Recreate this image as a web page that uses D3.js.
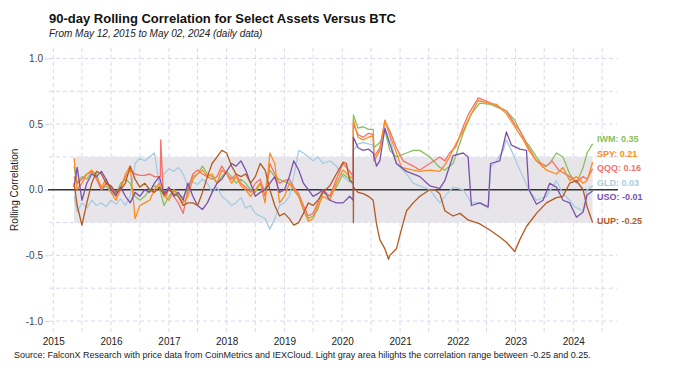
<!DOCTYPE html>
<html>
<head>
<meta charset="utf-8">
<script src="https://cdn.jsdelivr.net/npm/d3@7"></script>
<style>
  body { margin: 0; background: #fff; }
  svg { display: block; font-family: "Liberation Sans", Arial, Helvetica, sans-serif; }
</style>
</head>
<body>
<div id="chart"></div>
<script>
// ---- data ----
const assetNames = ["GLD", "IWM", "QQQ", "SPY", "USO", "UUP"]
const assetColors = ["#a6cde3", "#88c15c", "#f4716c", "#ff8b1c", "#7b50ad", "#b4591f"]

const iwm = [["2015-05-12",0.18],["2015-06-01",0.05],["2015-07-01",0.10],["2015-08-01",0.08],["2015-09-01",0.14],["2015-10-01",0.12],["2015-11-01",0.00],["2015-12-01",0.03],
  ["2016-01-01",-0.02],["2016-02-01",-0.05],["2016-03-01",0.05],["2016-04-01",0.08],["2016-05-01",0.05],["2016-06-01",-0.05],["2016-07-01",-0.08],["2016-08-01",-0.05],["2016-09-01",0.00],["2016-10-01",0.03],["2016-11-01",0.02],["2016-12-01",-0.12],
  ["2017-01-01",-0.05],["2017-02-01",0.00],["2017-03-01",-0.03],["2017-04-01",-0.06],["2017-05-01",0.02],["2017-06-01",0.10],["2017-07-01",0.12],["2017-08-01",0.18],["2017-09-01",0.12],["2017-10-01",0.10],["2017-11-01",0.05],["2017-12-01",0.10],
  ["2018-01-01",0.14],["2018-02-01",0.10],["2018-03-01",0.05],["2018-04-01",0.08],["2018-05-01",0.05],["2018-06-01",0.00],["2018-07-01",-0.02],["2018-08-01",0.05],["2018-09-01",0.00],["2018-10-01",0.15],["2018-11-01",0.10],["2018-12-01",0.08],
  ["2019-01-01",0.06],["2019-02-01",0.05],["2019-03-01",0.00],["2019-04-01",-0.05],["2019-05-01",-0.15],["2019-06-01",-0.22],["2019-07-01",-0.20],["2019-08-01",-0.15],["2019-09-01",-0.02],["2019-10-15",-0.05],["2019-11-25",0.02],["2020-01-07",0.12],["2020-02-18",0.08],["2020-03-11",0.05],
  ["2020-03-12",0.57],["2020-04-10",0.47],["2020-05-13",0.48],["2020-06-15",0.46],["2020-07-15",0.46],["2020-07-20",0.32],["2020-08-26",0.36],["2020-09-27",0.45],["2020-10-28",0.30],["2020-12-09",0.25],
  ["2021-02-11",0.28],["2021-03-25",0.30],["2021-05-06",0.30],["2021-07-08",0.25],["2021-09-09",0.17],["2021-10-11",0.15],["2021-12-02",0.20],["2022-02-04",0.43],["2022-03-28",0.58],["2022-05-20",0.66],["2022-07-27",0.65],["2022-09-23",0.62],["2022-11-04",0.60],["2022-12-27",0.53],
  ["2023-01-28",0.45],["2023-03-11",0.36],["2023-03-26",0.34],["2023-05-13",0.25],["2023-06-24",0.17],["2023-08-05",0.20],["2023-09-16",0.28],["2023-10-28",0.25],["2023-12-09",0.12],["2024-01-21",0.05],["2024-03-03",0.17],["2024-03-28",0.28],["2024-05-02",0.35]]

const spy = [["2015-05-12",0.24],["2015-06-01",0.00],["2015-07-01",0.05],["2015-08-01",0.12],["2015-09-01",0.15],["2015-10-01",0.10],["2015-11-01",0.02],["2015-12-01",0.08],
  ["2016-01-01",-0.02],["2016-02-01",-0.08],["2016-03-01",0.00],["2016-04-01",0.12],["2016-05-01",0.18],["2016-06-01",-0.22],["2016-07-01",-0.12],["2016-08-01",-0.10],["2016-09-01",-0.08],["2016-10-01",0.00],["2016-11-01",0.05],["2016-12-01",-0.05],
  ["2017-01-01",-0.08],["2017-02-01",0.00],["2017-03-01",-0.05],["2017-04-01",-0.10],["2017-05-01",-0.05],["2017-06-01",0.08],["2017-07-01",0.12],["2017-08-01",0.15],["2017-09-01",0.10],["2017-10-01",0.12],["2017-11-01",0.05],["2017-12-01",0.15],
  ["2018-01-01",0.12],["2018-02-01",0.05],["2018-03-01",0.10],["2018-04-01",0.03],["2018-05-01",0.00],["2018-06-01",-0.05],["2018-07-01",0.00],["2018-08-01",0.05],["2018-09-01",-0.10],["2018-10-01",0.28],["2018-11-01",0.20],["2018-12-01",-0.10],
  ["2019-01-01",-0.05],["2019-02-01",0.05],["2019-03-01",0.00],["2019-04-01",-0.05],["2019-05-01",-0.15],["2019-06-01",-0.24],["2019-07-01",-0.22],["2019-08-01",-0.12],["2019-09-01",-0.05],["2019-10-15",-0.08],["2019-11-25",0.05],["2020-01-07",0.15],["2020-02-18",0.10],["2020-03-11",0.08],
  ["2020-03-12",0.53],["2020-04-10",0.40],["2020-05-13",0.38],["2020-06-15",0.40],["2020-07-15",0.41],["2020-07-20",0.22],["2020-08-26",0.30],["2020-09-27",0.53],["2020-10-28",0.42],["2020-12-09",0.28],
  ["2021-01-10",0.17],["2021-03-25",0.15],["2021-05-06",0.14],["2021-07-08",0.15],["2021-09-09",0.14],["2021-10-11",0.19],["2021-11-10",0.25],["2021-12-20",0.35],["2022-02-04",0.45],["2022-03-07",0.53],["2022-05-10",0.68],["2022-07-12",0.66],["2022-09-03",0.65],["2022-11-04",0.58],["2022-12-27",0.48],
  ["2023-01-28",0.42],["2023-02-20",0.38],["2023-03-26",0.30],["2023-05-13",0.22],["2023-07-15",0.15],["2023-09-16",0.12],["2023-10-28",0.17],["2023-12-09",0.07],["2024-01-21",0.10],["2024-03-03",0.05],["2024-03-28",0.07],["2024-05-02",0.21]]

const qqq = [["2015-05-12",0.10],["2015-06-01",0.05],["2015-07-01",0.08],["2015-08-01",0.12],["2015-09-01",0.14],["2015-10-01",0.08],["2015-11-01",0.00],["2015-12-01",0.05],
  ["2016-01-01",0.02],["2016-02-01",-0.05],["2016-03-01",0.02],["2016-04-01",0.10],["2016-05-01",0.15],["2016-06-01",0.12],["2016-07-01",0.11],["2016-08-01",0.11],["2016-09-01",0.12],["2016-10-01",0.10],["2016-11-08",0.10],["2016-11-10",0.38],["2016-11-25",0.00],["2016-12-15",-0.05],
  ["2017-01-01",0.02],["2017-02-01",-0.05],["2017-03-01",-0.10],["2017-04-01",-0.18],["2017-05-01",0.00],["2017-06-01",0.12],["2017-07-01",0.15],["2017-08-01",0.12],["2017-09-01",0.10],["2017-10-01",0.08],["2017-11-01",0.10],["2017-12-01",0.18],
  ["2018-01-01",0.12],["2018-02-01",0.08],["2018-03-01",0.12],["2018-04-01",0.05],["2018-05-01",0.02],["2018-06-01",-0.02],["2018-07-01",0.05],["2018-08-01",0.08],["2018-09-01",-0.05],["2018-10-01",0.20],["2018-11-01",0.12],["2018-12-01",0.05],
  ["2019-01-01",0.07],["2019-02-01",0.08],["2019-03-01",0.02],["2019-04-01",-0.03],["2019-05-01",-0.12],["2019-06-01",-0.20],["2019-07-01",-0.18],["2019-08-01",-0.10],["2019-09-01",0.00],["2019-10-15",-0.05],["2019-11-25",0.08],["2020-01-07",0.20],["2020-02-18",0.14],["2020-03-11",0.10],
  ["2020-03-12",0.50],["2020-04-10",0.42],["2020-05-13",0.40],["2020-06-15",0.43],["2020-07-15",0.42],["2020-07-20",0.25],["2020-08-26",0.32],["2020-09-27",0.52],["2020-10-28",0.45],["2020-12-09",0.32],
  ["2021-01-20",0.22],["2021-03-25",0.18],["2021-05-06",0.15],["2021-07-08",0.20],["2021-09-09",0.25],["2021-10-11",0.22],["2021-11-10",0.28],["2021-12-20",0.33],["2022-02-04",0.48],["2022-03-07",0.57],["2022-05-10",0.70],["2022-07-12",0.67],["2022-09-03",0.64],["2022-11-04",0.60],["2022-12-27",0.50],
  ["2023-01-28",0.45],["2023-03-11",0.35],["2023-03-26",0.32],["2023-05-13",0.22],["2023-07-15",0.18],["2023-08-20",0.22],["2023-10-01",0.15],["2023-12-09",0.10],["2024-01-21",0.06],["2024-03-03",0.10],["2024-03-28",0.08],["2024-05-02",0.16]]

const gld = [["2015-05-12",-0.05],["2015-06-01",-0.17],["2015-07-01",-0.10],["2015-08-01",-0.14],["2015-09-01",-0.08],["2015-10-01",-0.12],["2015-11-01",-0.10],["2015-12-01",-0.13],
  ["2016-01-01",-0.08],["2016-02-01",-0.11],["2016-03-01",-0.07],["2016-04-01",-0.12],["2016-05-01",-0.05],["2016-06-01",0.20],["2016-07-01",0.24],["2016-08-01",0.22],["2016-09-01",0.25],["2016-10-01",0.28],["2016-11-01",0.05],["2016-12-01",0.12],
  ["2017-01-01",0.16],["2017-02-01",0.14],["2017-03-01",0.17],["2017-04-01",0.12],["2017-05-01",0.02],["2017-06-01",0.06],["2017-07-01",0.04],["2017-08-01",0.08],["2017-09-01",0.05],["2017-10-01",-0.02],["2017-11-01",0.02],["2017-12-01",-0.05],
  ["2018-01-01",-0.08],["2018-02-01",-0.12],["2018-03-01",-0.10],["2018-04-01",-0.06],["2018-05-01",-0.14],["2018-06-01",-0.12],["2018-07-01",-0.18],["2018-08-01",-0.20],["2018-09-01",-0.22],["2018-10-01",-0.30],["2018-11-01",-0.22],["2018-12-01",-0.12],
  ["2019-01-01",-0.10],["2019-02-01",-0.05],["2019-03-01",0.10],["2019-04-01",0.30],["2019-05-01",0.28],["2019-06-01",0.25],["2019-07-01",0.22],["2019-08-01",0.25],["2019-09-01",0.20],["2019-10-15",0.22],["2019-11-25",0.18],["2020-01-07",0.10],["2020-02-18",0.06],["2020-03-11",0.04],
  ["2020-03-12",0.30],["2020-04-10",0.35],["2020-05-13",0.36],["2020-06-15",0.35],["2020-07-15",0.34],["2020-07-20",0.22],["2020-08-26",0.30],["2020-09-27",0.53],["2020-10-28",0.40],["2020-12-09",0.20],
  ["2021-02-11",0.12],["2021-03-25",0.05],["2021-05-06",0.03],["2021-07-08",0.00],["2021-09-09",-0.10],["2021-10-11",-0.05],["2021-12-02",0.02],["2022-02-04",0.00],["2022-03-28",-0.10],["2022-05-20",-0.10],["2022-07-12",-0.14],["2022-07-27",0.17],["2022-09-03",0.22],["2022-10-15",0.30],["2022-11-04",0.38],["2022-12-06",0.30],
  ["2023-01-28",0.15],["2023-03-26",0.00],["2023-05-13",-0.08],["2023-07-15",-0.05],["2023-09-16",0.07],["2023-10-28",-0.03],["2023-12-09",-0.08],["2024-01-10",-0.13],["2024-03-03",-0.16],["2024-03-28",0.00],["2024-05-02",0.03]]

const uso = [["2015-05-12",0.02],["2015-06-01",0.17],["2015-07-01",-0.08],["2015-08-01",0.05],["2015-09-01",0.12],["2015-10-01",0.10],["2015-11-01",0.14],["2015-12-01",0.08],
  ["2016-01-01",0.00],["2016-02-01",-0.04],["2016-03-01",0.02],["2016-04-01",-0.05],["2016-05-01",-0.10],["2016-06-01",-0.02],["2016-07-01",-0.05],["2016-08-01",0.00],["2016-09-01",-0.02],["2016-10-01",0.05],["2016-11-01",0.10],["2016-12-01",-0.03],
  ["2017-01-01",0.02],["2017-02-01",-0.05],["2017-03-01",-0.02],["2017-04-01",-0.08],["2017-05-01",0.05],["2017-06-01",-0.05],["2017-07-01",-0.12],["2017-08-01",-0.15],["2017-09-01",-0.10],["2017-10-01",-0.02],["2017-11-01",0.05],["2017-12-01",0.08],
  ["2018-01-01",0.14],["2018-02-01",0.20],["2018-03-01",0.18],["2018-04-01",0.22],["2018-05-01",0.15],["2018-06-01",0.05],["2018-07-01",-0.05],["2018-08-01",-0.02],["2018-09-01",0.00],["2018-10-01",0.05],["2018-11-01",0.10],["2018-12-01",-0.02],
  ["2019-01-01",0.00],["2019-02-01",0.10],["2019-03-01",0.22],["2019-04-01",0.15],["2019-05-01",0.05],["2019-06-01",0.00],["2019-07-01",-0.05],["2019-08-01",-0.03],["2019-09-01",0.00],["2019-10-15",-0.08],["2019-11-25",-0.10],["2020-01-07",-0.10],["2020-02-18",-0.05],["2020-03-11",-0.08],
  ["2020-03-12",0.40],["2020-04-10",0.32],["2020-05-13",0.30],["2020-06-15",0.31],["2020-07-15",0.28],["2020-08-05",0.18],["2020-08-26",0.22],["2020-09-27",0.47],["2020-10-28",0.35],["2020-12-09",0.20],
  ["2021-02-11",0.14],["2021-05-06",0.10],["2021-07-08",0.03],["2021-09-09",0.01],["2021-10-11",0.07],["2021-12-02",0.26],["2022-02-04",0.28],["2022-03-07",0.25],["2022-03-28",-0.12],["2022-05-20",-0.10],["2022-07-12",-0.13],["2022-07-27",0.20],["2022-09-23",0.22],["2022-11-04",0.44],["2022-12-06",0.34],
  ["2023-01-28",0.31],["2023-03-11",0.30],["2023-03-26",0.00],["2023-05-13",-0.11],["2023-06-24",-0.08],["2023-08-05",0.05],["2023-09-16",0.02],["2023-10-28",-0.08],["2023-12-09",-0.10],["2024-01-21",-0.21],["2024-03-03",-0.17],["2024-03-28",-0.04],["2024-05-02",-0.01]]

const uup = [["2015-05-12",0.05],["2015-06-01",-0.12],["2015-07-01",-0.27],["2015-08-01",-0.10],["2015-09-01",0.05],["2015-10-01",0.14],["2015-11-01",0.12],["2015-12-01",0.05],
  ["2016-01-01",0.03],["2016-02-01",-0.02],["2016-03-01",0.00],["2016-04-01",0.05],["2016-05-01",0.18],["2016-06-01",0.08],["2016-07-01",0.02],["2016-08-01",0.05],["2016-09-01",0.00],["2016-10-01",-0.02],["2016-11-01",0.02],["2016-12-01",-0.04],
  ["2017-01-01",0.00],["2017-02-01",-0.03],["2017-03-01",-0.05],["2017-04-01",-0.12],["2017-05-01",-0.10],["2017-06-01",-0.10],["2017-07-01",-0.12],["2017-08-01",-0.02],["2017-09-01",0.10],["2017-10-01",0.20],["2017-11-01",0.25],["2017-12-01",0.30],
  ["2018-01-01",0.28],["2018-02-01",0.18],["2018-03-01",0.12],["2018-04-01",0.10],["2018-05-01",0.12],["2018-06-01",0.05],["2018-07-01",0.10],["2018-08-01",0.20],["2018-09-01",0.15],["2018-10-01",0.00],["2018-11-01",-0.12],["2018-12-01",-0.20],
  ["2019-01-01",-0.18],["2019-02-01",-0.22],["2019-03-01",-0.27],["2019-04-01",-0.25],["2019-05-01",-0.18],["2019-06-01",-0.10],["2019-07-01",-0.12],["2019-08-01",-0.08],["2019-09-01",-0.02],["2019-10-15",0.03],["2019-11-25",0.12],["2020-01-07",0.21],["2020-01-28",0.20],["2020-02-18",0.07],["2020-03-11",0.05],
  ["2020-03-12",-0.25],["2020-03-13",0.02],["2020-04-10",-0.02],["2020-05-13",-0.03],["2020-06-15",-0.05],["2020-07-15",-0.08],["2020-08-05",-0.26],["2020-08-26",-0.38],["2020-09-27",-0.45],["2020-10-20",-0.53],["2020-10-28",-0.50],["2020-12-09",-0.45],
  ["2021-01-10",-0.30],["2021-02-11",-0.16],["2021-03-25",-0.10],["2021-05-06",-0.05],["2021-07-08",0.00],["2021-08-10",0.00],["2021-09-09",-0.03],["2021-10-11",-0.16],["2021-12-02",-0.20],["2022-01-15",-0.18],["2022-03-07",-0.23],["2022-05-20",-0.26],["2022-07-27",-0.31],["2022-09-23",-0.36],["2022-11-04",-0.40],["2022-12-27",-0.47],
  ["2023-01-28",-0.38],["2023-03-11",-0.28],["2023-05-13",-0.18],["2023-07-15",-0.10],["2023-09-16",-0.06],["2023-10-28",-0.05],["2023-12-09",0.05],["2024-01-21",0.07],["2024-03-03",0.00],["2024-03-28",-0.13],["2024-05-02",-0.25]]

const yTickValues = [-1, -0.5, 0, 0.5, 1]
const yGridValues = [-1, -0.75, -0.5, -0.25, 0, 0.25, 0.5, 0.75, 1]
const yearLabels = ["2015", "2016", "2017", "2018", "2019", "2020", "2021", "2022", "2023", "2024"]
const band = [-0.25, 0.25]
const periodStart = "2015-05-12", periodEnd = "2024-05-02"

// ---- layout ----
const width = 675, height = 375
const panel = { left: 49, right: 617, top: 48, bottom: 332 }
const parse = d3.utcParse("%Y-%m-%d")

const svg = d3.select("#chart").append("svg")
  .attr("width", width).attr("height", height)
  .attr("viewBox", [0, 0, width, height])

const x = d3.scaleUtc()
  .domain([new Date(Date.UTC(2015, 0, 1)), new Date(Date.UTC(2024, 0, 1))])
  .range([53.3, 573.3])
const y = d3.scaleLinear().domain([-1, 1]).range([321, 58.5])

const gridColor = "#cdd1ec"

// grid
const halfYears = d3.utcMonth.every(6).range(new Date(Date.UTC(2015, 0, 1)), new Date(Date.UTC(2024, 8, 1)))
svg.append("g").classed("grid x", true)
  .selectAll("line").data(halfYears).join("line")
  .attr("x1", d => x(d)).attr("x2", d => x(d))
  .attr("y1", panel.top).attr("y2", panel.bottom)
  .attr("stroke", gridColor).attr("stroke-width", 0.8).attr("stroke-dasharray", "4,3")

svg.append("g").classed("grid y", true)
  .selectAll("line").data(yGridValues).join("line")
  .attr("x1", panel.left).attr("x2", panel.right)
  .attr("y1", d => y(d)).attr("y2", d => y(d))
  .attr("stroke", gridColor).attr("stroke-width", 0.8).attr("stroke-dasharray", "4,3")

// light gray band
svg.append("rect").classed("band", true)
  .attr("x", x(parse(periodStart)))
  .attr("width", x(parse(periodEnd)) - x(parse(periodStart)))
  .attr("y", y(band[1]))
  .attr("height", y(band[0]) - y(band[1]))
  .attr("fill", "#e7e5e9")

// axes
const axisY = svg.append("g").classed("axis y", true)
  .attr("transform", `translate(${panel.left},0)`)
  .call(d3.axisLeft(y).tickValues(yTickValues).tickSize(4).tickPadding(2).tickFormat(d => d.toFixed(1)))
axisY.select(".domain").remove()
axisY.selectAll("line").attr("stroke", gridColor)
axisY.selectAll("text").attr("font-size", 10).attr("fill", "#444").attr("font-family", null)

const axisX = svg.append("g").classed("axis x", true)
  .attr("transform", `translate(0,${panel.bottom})`)
  .call(d3.axisBottom(x).tickValues(yearLabels.map(s => parse(s + "-01-01"))).tickSize(0).tickPadding(6).tickFormat(d3.utcFormat("%Y")))
axisX.select(".domain").remove()
axisX.selectAll("text").attr("font-size", 10).attr("fill", "#222").attr("font-family", null)

// zero line
svg.append("line")
  .attr("x1", 48).attr("x2", 618)
  .attr("y1", y(0)).attr("y2", y(0))
  .attr("stroke", "#333").attr("stroke-width", 1.3)

// lines
const seriesData = [gld, iwm, qqq, spy, uso, uup]
const line = d3.line().x(d => x(parse(d[0]))).y(d => y(d[1]))
svg.append("g").classed("lines", true)
  .selectAll("path").data(seriesData).join("path")
  .attr("d", line)
  .attr("fill", "none")
  .attr("stroke", (d, i) => assetColors[i])
  .attr("stroke-width", 1.3)
  .attr("stroke-linejoin", "round")

// end labels, nudged apart so they don't overlap
const labels = seriesData.map((s, i) => {
  const last = s[s.length - 1][1]
  return { name: assetNames[i], value: last, color: assetColors[i], y: y(last) }
}).sort((a, b) => a.y - b.y)
for (let k = 0; k < 200; k++) {
  for (let i = 1; i < labels.length; i++) {
    const gap = labels[i].y - labels[i - 1].y
    if (gap < 14.5) {
      const push = (14.5 - gap) / 2
      labels[i].y += push
      labels[i - 1].y -= push
    }
  }
}
svg.append("g").classed("end-labels", true)
  .selectAll("text").data(labels).join("text")
  .attr("x", 597).attr("y", d => d.y - 2).attr("dy", "0.35em")
  .attr("font-size", 9).attr("font-weight", "bold")
  .attr("fill", d => d.color)
  .text(d => `${d.name}: ${d.value.toFixed(2)}`)

// titles
svg.append("text")
  .attr("x", 49).attr("y", 23)
  .attr("font-size", 13).attr("font-weight", "bold").attr("fill", "#111")
  .text("90-day Rolling Correlation for Select Assets Versus BTC")
svg.append("text")
  .attr("x", 49).attr("y", 37)
  .attr("font-size", 10).attr("font-style", "italic").attr("fill", "#222")
  .text("From May 12, 2015 to May 02, 2024 (daily data)")
svg.append("text")
  .attr("transform", `translate(18,${y(0)}) rotate(-90)`)
  .attr("text-anchor", "middle")
  .attr("font-size", 10).attr("fill", "#222")
  .text("Rolling Correlation")
svg.append("text")
  .attr("x", 14).attr("y", 358)
  .attr("font-size", 9).attr("fill", "#222")
  .text("Source: FalconX Research with price data from CoinMetrics and IEXCloud. Light gray area hilights the correlation range between -0.25 and 0.25.")
</script>
</body>
</html>
